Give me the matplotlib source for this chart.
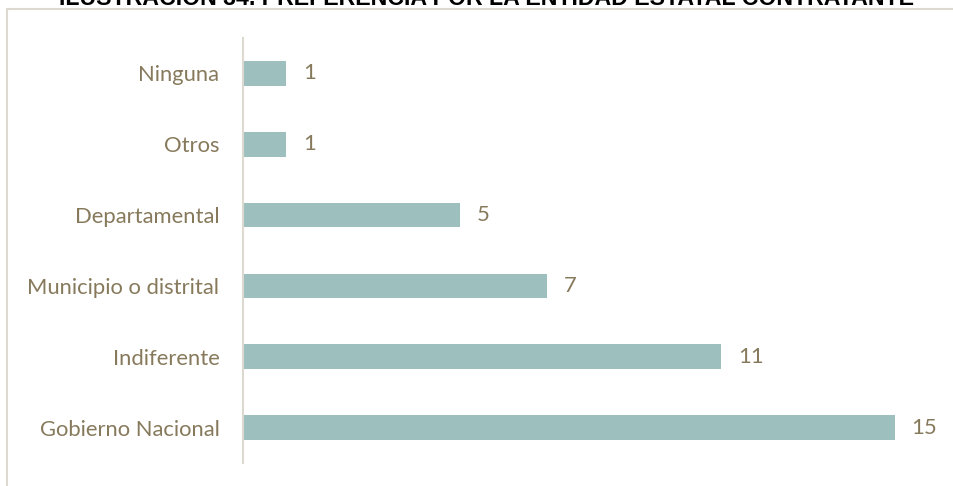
import matplotlib
matplotlib.use("Agg")
from matplotlib import pyplot as plt
from matplotlib.patches import Rectangle

categories = ["Gobierno Nacional", "Indiferente", "Municipio o distrital",
              "Departamental", "Otros", "Ninguna"]
values = [15, 11, 7, 5, 1, 1]

bar_color = "#9dbfbd"
text_color = "#877a5c"
line_color = "#dcd9d0"

fig = plt.figure(figsize=(9.54, 4.86), dpi=100)

# chart frame (runs past the right and bottom edges)
fig.patches.append(Rectangle((7 / 954, -0.1), 1.2, 1.1 - 9.5 / 486,
                             transform=fig.transFigure, fill=False,
                             edgecolor=line_color, linewidth=1.5))

# caption sits mostly above the top edge
fig.text(487 / 954, 1 - 5 / 486, "ILUSTRACIÓN 34. PREFERENCIA POR LA ENTIDAD ESTATAL CONTRATANTE",
         ha="center", va="baseline", fontsize=16.7, fontweight="bold",
         family="Liberation Sans", color="black")

ax = fig.add_axes([243 / 954, 1 - 463 / 486, 652 / 954, 425 / 486])
ax.barh(range(len(categories)), values, height=0.35, color=bar_color)
ax.set_xlim(0, 15)
ax.set_ylim(-0.5, len(categories) - 0.5)
ax.set_yticks(range(len(categories)))
ax.set_yticklabels(categories, family="Lato", fontsize=15.8, color=text_color)
ax.tick_params(axis="y", length=0, pad=17)
ax.set_xticks([])
for s in ["top", "right", "bottom"]:
    ax.spines[s].set_visible(False)
ax.spines["left"].set_color(line_color)
ax.spines["left"].set_linewidth(1.5)

for i, v in enumerate(values):
    ax.annotate(str(v), (v, i), xytext=(12, 0), textcoords="offset points",
                ha="left", va="center", family="Lato", fontsize=15.8,
                color=text_color, annotation_clip=False)

fig.savefig("out.png", dpi=100)
